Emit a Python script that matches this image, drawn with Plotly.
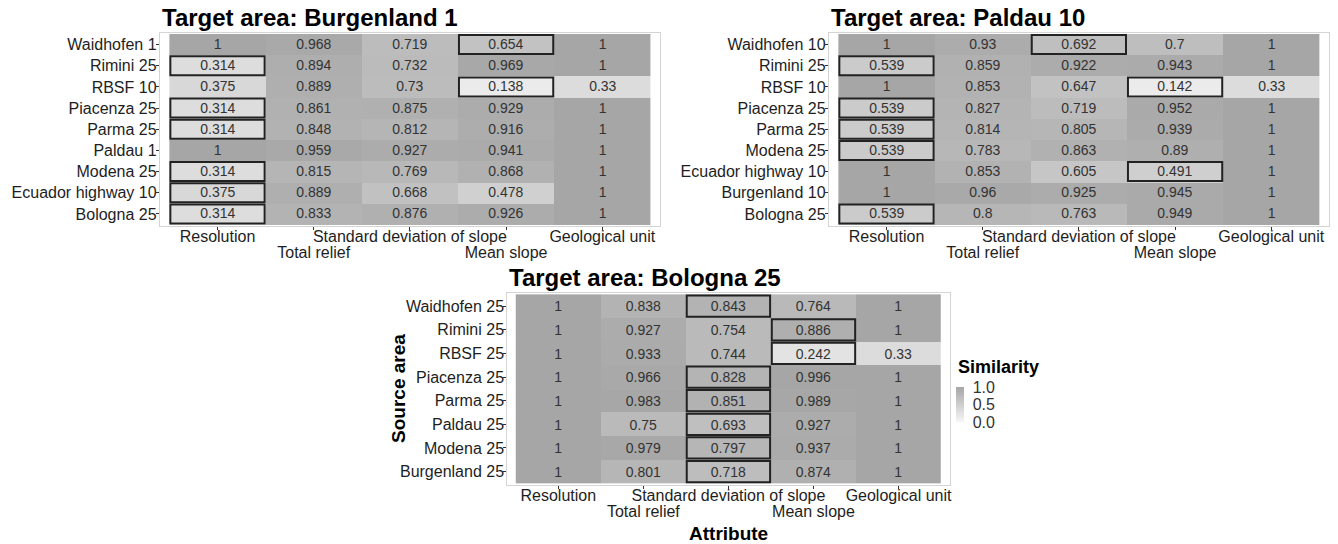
import plotly.graph_objects as go

# ---------------- data ----------------
attributes = ["Resolution", "Total relief", "Standard deviation of slope", "Mean slope", "Geological unit"]

title_1 = "Target area: Burgenland 1"
sources_1 = ["Waidhofen 1", "Rimini 25", "RBSF 10", "Piacenza 25", "Parma 25",
             "Paldau 1", "Modena 25", "Ecuador highway 10", "Bologna 25"]
values_1 = [
    [1, 0.968, 0.719, 0.654, 1],
    [0.314, 0.894, 0.732, 0.969, 1],
    [0.375, 0.889, 0.73, 0.138, 0.33],
    [0.314, 0.861, 0.875, 0.929, 1],
    [0.314, 0.848, 0.812, 0.916, 1],
    [1, 0.959, 0.927, 0.941, 1],
    [0.314, 0.815, 0.769, 0.868, 1],
    [0.375, 0.889, 0.668, 0.478, 1],
    [0.314, 0.833, 0.876, 0.926, 1],
]
boxed_1 = [("Waidhofen 1", "Mean slope"), ("Rimini 25", "Resolution"), ("RBSF 10", "Mean slope"),
           ("Piacenza 25", "Resolution"), ("Parma 25", "Resolution"), ("Modena 25", "Resolution"),
           ("Ecuador highway 10", "Resolution"), ("Bologna 25", "Resolution")]

title_2 = "Target area: Paldau 10"
sources_2 = ["Waidhofen 10", "Rimini 25", "RBSF 10", "Piacenza 25", "Parma 25",
             "Modena 25", "Ecuador highway 10", "Burgenland 10", "Bologna 25"]
values_2 = [
    [1, 0.93, 0.692, 0.7, 1],
    [0.539, 0.859, 0.922, 0.943, 1],
    [1, 0.853, 0.647, 0.142, 0.33],
    [0.539, 0.827, 0.719, 0.952, 1],
    [0.539, 0.814, 0.805, 0.939, 1],
    [0.539, 0.783, 0.863, 0.89, 1],
    [1, 0.853, 0.605, 0.491, 1],
    [1, 0.96, 0.925, 0.945, 1],
    [0.539, 0.8, 0.763, 0.949, 1],
]
boxed_2 = [("Waidhofen 10", "Standard deviation of slope"), ("Rimini 25", "Resolution"),
           ("RBSF 10", "Mean slope"), ("Piacenza 25", "Resolution"), ("Parma 25", "Resolution"),
           ("Modena 25", "Resolution"), ("Ecuador highway 10", "Mean slope"), ("Bologna 25", "Resolution")]

title_3 = "Target area: Bologna 25"
sources_3 = ["Waidhofen 25", "Rimini 25", "RBSF 25", "Piacenza 25", "Parma 25",
             "Paldau 25", "Modena 25", "Burgenland 25"]
values_3 = [
    [1, 0.838, 0.843, 0.764, 1],
    [1, 0.927, 0.754, 0.886, 1],
    [1, 0.933, 0.744, 0.242, 0.33],
    [1, 0.966, 0.828, 0.996, 1],
    [1, 0.983, 0.851, 0.989, 1],
    [1, 0.75, 0.693, 0.927, 1],
    [1, 0.979, 0.797, 0.937, 1],
    [1, 0.801, 0.718, 0.874, 1],
]
boxed_3 = [("Waidhofen 25", "Standard deviation of slope"), ("Rimini 25", "Mean slope"),
           ("RBSF 25", "Mean slope"), ("Piacenza 25", "Standard deviation of slope"),
           ("Parma 25", "Standard deviation of slope"), ("Paldau 25", "Standard deviation of slope"),
           ("Modena 25", "Standard deviation of slope"), ("Burgenland 25", "Standard deviation of slope")]

legend_title = "Similarity"
legend_ticks = [0, 0.5, 1]
legend_ticktext = ["0.0", "0.5", "1.0"]
x_title = "Attribute"
y_title = "Source area"

# ---------------- layout ----------------
OFF = 8                      # page body margin of the browser
W, H = 1338 - OFF, 544 - OFF
FONT = "Liberation Sans, Arial, sans-serif"
TXT = "#1e1e1e"

def px(x):
    return (x - OFF) / W

def py(y):
    return 1 - (y - OFF) / H

# panel border boxes in reference pixels: (left, right, top, bottom)
panels = [
    (title_1, sources_1, values_1, boxed_1, (160, 661, 32.5, 226)),
    (title_2, sources_2, values_2, boxed_2, (830, 1331, 32.5, 226)),
    (title_3, sources_3, values_3, boxed_3, (508, 951, 292.7, 485)),
]

fig = go.Figure()
shapes = []
annotations = []
layout_axes = {}
PADX = 0.1
PADY = 0.07

for i, (title, sources, values, boxed, (l, r, t, b)) in enumerate(panels):
    k = "" if i == 0 else str(i + 1)
    xa, ya = "x" + k, "y" + k
    kk = str(i + 4)
    n = len(sources)
    m = len(attributes)
    text = [[f"{v:g}" for v in row] for row in values]
    fig.add_trace(go.Heatmap(
        x=list(range(m)), y=list(range(n)), z=values, text=text,
        texttemplate="%{text}", textfont=dict(size=14, color="#333333", family=FONT),
        coloraxis="coloraxis", hoverinfo="skip", xaxis=xa, yaxis=ya,
    ))
    # carrier for the staggered second row of x tick labels
    fig.add_trace(go.Scatter(x=[None], y=[None], xaxis="x" + kk, yaxis=ya,
                             mode="markers", showlegend=False, hoverinfo="skip"))
    xdom = [px(l), px(r)]
    ydom = [py(b), py(t)]
    xrange = [-0.5 - PADX, m - 0.5 + PADX]
    layout_axes["xaxis" + k] = dict(
        domain=xdom, anchor=ya, range=xrange, tickmode="array",
        tickvals=list(range(m)),
        ticktext=[a if j % 2 == 0 else "" for j, a in enumerate(attributes)],
        ticks="outside", ticklen=3, tickcolor="#333333", tickwidth=1,
        showline=True, mirror=True, linecolor="#d4d4d4", linewidth=1,
        showgrid=False, zeroline=False, ticklabelstandoff=-7,
        tickfont=dict(size=16, color=TXT, family=FONT),
    )
    layout_axes["yaxis" + k] = dict(
        domain=ydom, anchor=xa, range=[n - 0.5 + PADY, -0.5 - PADY],
        tickmode="array", tickvals=list(range(n)), ticktext=sources,
        ticks="outside", ticklen=3, tickcolor="#333333", tickwidth=1,
        showline=True, mirror=True, linecolor="#d4d4d4", linewidth=1,
        showgrid=False, zeroline=False, ticklabelstandoff=-4,
        tickfont=dict(size=16, color=TXT, family=FONT),
    )
    layout_axes["xaxis" + kk] = dict(
        domain=xdom, anchor=ya, overlaying=xa, side="bottom", range=xrange,
        tickmode="array", tickvals=[j for j in range(m) if j % 2 == 1],
        ticktext=[a for j, a in enumerate(attributes) if j % 2 == 1],
        ticks="", showline=False, showgrid=False, zeroline=False,
        ticklabelstandoff=15,
        tickfont=dict(size=16, color=TXT, family=FONT),
    )
    # highlighted cells
    for src, attr in boxed:
        rr = sources.index(src)
        cc = attributes.index(attr)
        shapes.append(dict(
            type="rect", xref=xa, yref=ya,
            x0=cc - 0.5 + 0.01, x1=cc + 0.5 - 0.01,
            y0=rr - 0.5 + 0.05, y1=rr + 0.5 - 0.05,
            line=dict(color="#222222", width=2), fillcolor="rgba(0,0,0,0)",
        ))
    annotations.append(dict(
        text=title, xref="paper", yref="paper", x=px(l), y=py(t - 15),
        xanchor="left", yanchor="middle", showarrow=False,
        font=dict(size=24, color="#000000", family=FONT, weight="bold"),
    ))

annotations.append(dict(
    text=y_title, xref="paper", yref="paper", x=px(399), y=py(388.5),
    xanchor="center", yanchor="middle", textangle=-90, showarrow=False,
    font=dict(size=19, color="#000000", family=FONT, weight="bold"),
))
annotations.append(dict(
    text=x_title, xref="paper", yref="paper", x=px(729.5), y=py(533),
    xanchor="center", yanchor="middle", showarrow=False,
    font=dict(size=19, color="#000000", family=FONT, weight="bold"),
))
annotations.append(dict(
    text=legend_title, xref="paper", yref="paper", x=px(957), y=py(367),
    xanchor="left", yanchor="middle", showarrow=False,
    font=dict(size=18, color="#000000", family=FONT, weight="bold"),
))

fig.update_layout(
    width=W, height=H, margin=dict(l=0, r=0, t=0, b=0),
    paper_bgcolor="white", plot_bgcolor="white",
    font=dict(family=FONT, color=TXT),
    shapes=shapes, annotations=annotations, showlegend=False,
    coloraxis=dict(
        cmin=0, cmax=1,
        colorscale=[[0, "#f6f6f6"], [1, "#a6a6a6"]],
        colorbar=dict(
            x=px(957), xanchor="left", y=py(387), yanchor="top",
            len=35, lenmode="pixels", thickness=8, xpad=0, ypad=0,
            outlinewidth=0, ticks="outside", ticklen=6,
            tickcolor="rgba(0,0,0,0)", tickmode="array",
            tickvals=legend_ticks, ticktext=legend_ticktext,
            tickfont=dict(size=16, color="#333333", family=FONT),
        ),
    ),
    **layout_axes,
)

fig.write_html("out.html")
